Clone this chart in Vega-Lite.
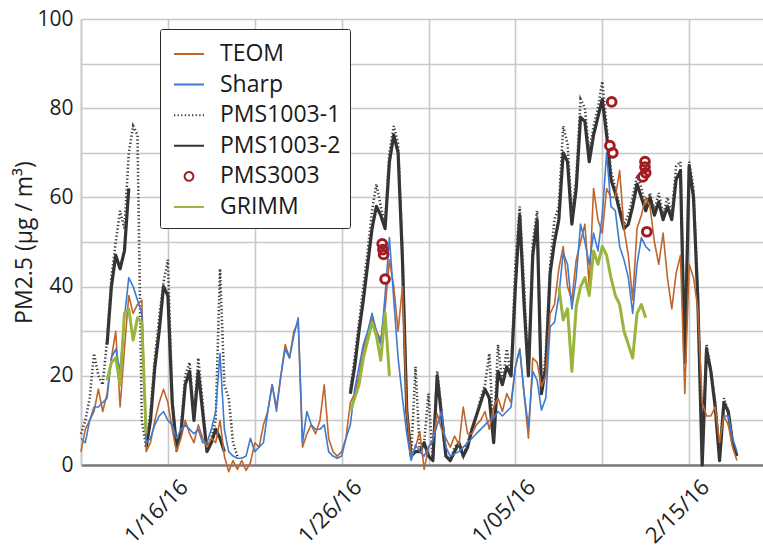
{
  "$schema": "https://vega.github.io/schema/vega-lite/v6.json",
  "width": 682,
  "height": 446,
  "autosize": {"type": "none"},
  "padding": {"left": 81, "top": 19, "right": 0, "bottom": 86},
  "background": "white",
  "config": {"view": {"stroke": null}, "font": "Open Sans"},
  "datasets": {
    "series": [
      {"t":"2016-01-11T00:00","TEOM":3,"Sharp":6,"PMS1003-1":7},
      {"t":"2016-01-11T06:00","TEOM":8,"Sharp":5,"PMS1003-1":10},
      {"t":"2016-01-11T12:00","TEOM":10,"Sharp":10,"PMS1003-1":15},
      {"t":"2016-01-11T18:00","TEOM":12,"Sharp":13,"PMS1003-1":25},
      {"t":"2016-01-12T00:00","TEOM":17,"Sharp":13,"PMS1003-1":20},
      {"t":"2016-01-12T06:00","TEOM":12,"Sharp":14,"PMS1003-1":18},
      {"t":"2016-01-12T12:00","TEOM":16,"Sharp":15,"PMS1003-1":28,"PMS1003-2":27,"GRIMM":19},
      {"t":"2016-01-12T18:00","TEOM":24,"Sharp":24,"PMS1003-1":42,"PMS1003-2":40,"GRIMM":23},
      {"t":"2016-01-13T00:00","TEOM":30,"Sharp":26,"PMS1003-1":50,"PMS1003-2":47,"GRIMM":24},
      {"t":"2016-01-13T06:00","TEOM":13,"Sharp":21,"PMS1003-1":57,"PMS1003-2":44,"GRIMM":18},
      {"t":"2016-01-13T12:00","TEOM":26,"Sharp":33,"PMS1003-1":53,"PMS1003-2":48,"GRIMM":34},
      {"t":"2016-01-13T18:00","TEOM":38,"Sharp":42,"PMS1003-1":70,"PMS1003-2":62,"GRIMM":35},
      {"t":"2016-01-14T00:00","TEOM":34,"Sharp":40,"PMS1003-1":76,"GRIMM":28},
      {"t":"2016-01-14T06:00","TEOM":36,"Sharp":37,"PMS1003-1":74,"GRIMM":33},
      {"t":"2016-01-14T12:00","TEOM":37,"Sharp":34,"PMS1003-1":10,"GRIMM":32},
      {"t":"2016-01-14T18:00","TEOM":3,"Sharp":5,"PMS1003-1":4,"PMS1003-2":4,"GRIMM":7},
      {"t":"2016-01-15T00:00","TEOM":5,"Sharp":6,"PMS1003-1":12,"PMS1003-2":10},
      {"t":"2016-01-15T06:00","TEOM":10,"Sharp":9,"PMS1003-1":24,"PMS1003-2":22},
      {"t":"2016-01-15T12:00","TEOM":14,"Sharp":11,"PMS1003-1":33,"PMS1003-2":30},
      {"t":"2016-01-15T18:00","TEOM":17,"Sharp":12,"PMS1003-1":41,"PMS1003-2":40},
      {"t":"2016-01-16T00:00","TEOM":14,"Sharp":10,"PMS1003-1":46,"PMS1003-2":38},
      {"t":"2016-01-16T06:00","TEOM":8,"Sharp":9,"PMS1003-1":15,"PMS1003-2":14},
      {"t":"2016-01-16T12:00","TEOM":3,"Sharp":6,"PMS1003-1":3,"PMS1003-2":4},
      {"t":"2016-01-16T18:00","TEOM":6,"Sharp":8,"PMS1003-1":8,"PMS1003-2":7},
      {"t":"2016-01-17T00:00","TEOM":10,"Sharp":9,"PMS1003-1":20,"PMS1003-2":18},
      {"t":"2016-01-17T06:00","TEOM":7,"Sharp":8,"PMS1003-1":23,"PMS1003-2":21},
      {"t":"2016-01-17T12:00","TEOM":5,"Sharp":7,"PMS1003-1":11,"PMS1003-2":10},
      {"t":"2016-01-17T18:00","TEOM":9,"Sharp":8,"PMS1003-1":24,"PMS1003-2":21},
      {"t":"2016-01-18T00:00","TEOM":6,"Sharp":5,"PMS1003-1":14,"PMS1003-2":12},
      {"t":"2016-01-18T06:00","TEOM":4,"Sharp":5,"PMS1003-1":3,"PMS1003-2":3},
      {"t":"2016-01-18T12:00","TEOM":6,"Sharp":8,"PMS1003-1":6,"PMS1003-2":5},
      {"t":"2016-01-18T18:00","TEOM":5,"Sharp":12,"PMS1003-1":10,"PMS1003-2":8},
      {"t":"2016-01-19T00:00","TEOM":10,"Sharp":25,"PMS1003-1":44,"PMS1003-2":6},
      {"t":"2016-01-19T06:00","TEOM":2,"Sharp":8,"PMS1003-1":18,"PMS1003-2":3},
      {"t":"2016-01-19T12:00","TEOM":-1.5,"Sharp":3,"PMS1003-1":15},
      {"t":"2016-01-19T18:00","TEOM":1,"Sharp":2,"PMS1003-1":5},
      {"t":"2016-01-20T00:00","TEOM":-1,"Sharp":1.5,"PMS1003-1":2},
      {"t":"2016-01-20T06:00","TEOM":1,"Sharp":1.5},
      {"t":"2016-01-20T12:00","TEOM":-1.2,"Sharp":2},
      {"t":"2016-01-20T18:00","TEOM":0.5,"Sharp":6},
      {"t":"2016-01-21T00:00","TEOM":5,"Sharp":3},
      {"t":"2016-01-21T06:00","TEOM":4,"Sharp":4},
      {"t":"2016-01-21T12:00","TEOM":9,"Sharp":5},
      {"t":"2016-01-21T18:00","TEOM":12,"Sharp":12},
      {"t":"2016-01-22T00:00","TEOM":18,"Sharp":18},
      {"t":"2016-01-22T06:00","TEOM":13,"Sharp":12},
      {"t":"2016-01-22T12:00","TEOM":20,"Sharp":20},
      {"t":"2016-01-22T18:00","TEOM":27,"Sharp":26},
      {"t":"2016-01-23T00:00","TEOM":24,"Sharp":24},
      {"t":"2016-01-23T06:00","TEOM":30,"Sharp":29},
      {"t":"2016-01-23T12:00","TEOM":32,"Sharp":33},
      {"t":"2016-01-23T18:00","TEOM":4,"Sharp":5},
      {"t":"2016-01-24T00:00","TEOM":7,"Sharp":12},
      {"t":"2016-01-24T06:00","TEOM":9,"Sharp":9},
      {"t":"2016-01-24T12:00","TEOM":7,"Sharp":8},
      {"t":"2016-01-24T18:00","TEOM":10,"Sharp":8},
      {"t":"2016-01-25T00:00","TEOM":18,"Sharp":9},
      {"t":"2016-01-25T06:00","TEOM":6,"Sharp":3},
      {"t":"2016-01-25T12:00","TEOM":3,"Sharp":2},
      {"t":"2016-01-25T18:00","TEOM":2,"Sharp":1.5},
      {"t":"2016-01-26T00:00","TEOM":3,"Sharp":2},
      {"t":"2016-01-26T06:00","TEOM":6,"Sharp":6},
      {"t":"2016-01-26T12:00","TEOM":14,"Sharp":9,"PMS1003-1":17,"PMS1003-2":16,"GRIMM":12},
      {"t":"2016-01-26T18:00","TEOM":16,"Sharp":17,"PMS1003-1":24,"PMS1003-2":22,"GRIMM":15},
      {"t":"2016-01-27T00:00","TEOM":20,"Sharp":22,"PMS1003-1":32,"PMS1003-2":30,"GRIMM":18},
      {"t":"2016-01-27T06:00","TEOM":26,"Sharp":27,"PMS1003-1":40,"PMS1003-2":37,"GRIMM":24},
      {"t":"2016-01-27T12:00","TEOM":29,"Sharp":30,"PMS1003-1":48,"PMS1003-2":45,"GRIMM":28},
      {"t":"2016-01-27T18:00","TEOM":33,"Sharp":34,"PMS1003-1":57,"PMS1003-2":53,"GRIMM":32},
      {"t":"2016-01-28T00:00","TEOM":30,"Sharp":30,"PMS1003-1":63,"PMS1003-2":58,"GRIMM":29},
      {"t":"2016-01-28T06:00","TEOM":28,"Sharp":27,"PMS1003-1":58,"PMS1003-2":56,"GRIMM":23.5},
      {"t":"2016-01-28T12:00","TEOM":35,"Sharp":38,"PMS1003-1":54,"PMS1003-2":53,"GRIMM":34},
      {"t":"2016-01-28T18:00","TEOM":46,"Sharp":51,"PMS1003-1":70,"PMS1003-2":68,"GRIMM":20},
      {"t":"2016-01-29T00:00","TEOM":40,"Sharp":37,"PMS1003-1":76,"PMS1003-2":74},
      {"t":"2016-01-29T06:00","TEOM":30,"Sharp":24,"PMS1003-1":72,"PMS1003-2":70},
      {"t":"2016-01-29T12:00","TEOM":40,"Sharp":15,"PMS1003-1":48,"PMS1003-2":46},
      {"t":"2016-01-29T18:00","TEOM":12,"Sharp":7,"PMS1003-1":12,"PMS1003-2":12},
      {"t":"2016-01-30T00:00","TEOM":2,"Sharp":1,"PMS1003-1":2,"PMS1003-2":2},
      {"t":"2016-01-30T06:00","TEOM":4,"Sharp":4.5,"PMS1003-1":22,"PMS1003-2":3},
      {"t":"2016-01-30T12:00","TEOM":7.5,"Sharp":3,"PMS1003-1":3,"PMS1003-2":3},
      {"t":"2016-01-30T18:00","TEOM":-1,"Sharp":2,"PMS1003-1":5,"PMS1003-2":5},
      {"t":"2016-01-31T00:00","TEOM":4,"Sharp":4,"PMS1003-1":16,"PMS1003-2":2},
      {"t":"2016-01-31T06:00","TEOM":5.5,"Sharp":5.5,"PMS1003-1":1,"PMS1003-2":1},
      {"t":"2016-01-31T12:00","TEOM":11.5,"Sharp":9,"PMS1003-1":21,"PMS1003-2":20},
      {"t":"2016-01-31T18:00","TEOM":8,"Sharp":12,"PMS1003-1":12,"PMS1003-2":11},
      {"t":"2016-02-01T00:00","TEOM":6,"Sharp":4,"PMS1003-1":2,"PMS1003-2":2},
      {"t":"2016-02-01T06:00","TEOM":4,"Sharp":2,"PMS1003-1":1,"PMS1003-2":1},
      {"t":"2016-02-01T12:00","TEOM":6.5,"Sharp":2.5,"PMS1003-1":4,"PMS1003-2":3},
      {"t":"2016-02-01T18:00","TEOM":4.5,"Sharp":3,"PMS1003-1":5,"PMS1003-2":5},
      {"t":"2016-02-02T00:00","TEOM":13,"Sharp":4,"PMS1003-1":2,"PMS1003-2":2},
      {"t":"2016-02-02T06:00","TEOM":7,"Sharp":5,"PMS1003-1":5,"PMS1003-2":4},
      {"t":"2016-02-02T12:00","TEOM":7,"Sharp":6,"PMS1003-1":8,"PMS1003-2":8},
      {"t":"2016-02-02T18:00","TEOM":9,"Sharp":7,"PMS1003-1":11,"PMS1003-2":11},
      {"t":"2016-02-03T00:00","TEOM":10,"Sharp":8,"PMS1003-1":15,"PMS1003-2":14},
      {"t":"2016-02-03T06:00","TEOM":12,"Sharp":9,"PMS1003-1":18,"PMS1003-2":17},
      {"t":"2016-02-03T12:00","TEOM":8,"Sharp":10,"PMS1003-1":25,"PMS1003-2":15},
      {"t":"2016-02-03T18:00","TEOM":13,"Sharp":10.5,"PMS1003-1":6,"PMS1003-2":5},
      {"t":"2016-02-04T00:00","TEOM":15,"Sharp":12,"PMS1003-1":27,"PMS1003-2":21},
      {"t":"2016-02-04T06:00","TEOM":12,"Sharp":11,"PMS1003-1":18,"PMS1003-2":18},
      {"t":"2016-02-04T12:00","TEOM":16,"Sharp":12,"PMS1003-1":26,"PMS1003-2":22},
      {"t":"2016-02-04T18:00","TEOM":14,"Sharp":13,"PMS1003-1":20,"PMS1003-2":20},
      {"t":"2016-02-05T00:00","TEOM":22,"Sharp":22,"PMS1003-1":45,"PMS1003-2":40},
      {"t":"2016-02-05T06:00","TEOM":26,"Sharp":26,"PMS1003-1":58,"PMS1003-2":56},
      {"t":"2016-02-05T12:00","TEOM":16,"Sharp":16,"PMS1003-1":40,"PMS1003-2":36},
      {"t":"2016-02-05T18:00","TEOM":6,"Sharp":8.6,"PMS1003-1":20,"PMS1003-2":20},
      {"t":"2016-02-06T00:00","TEOM":24,"Sharp":21,"PMS1003-1":50,"PMS1003-2":47},
      {"t":"2016-02-06T06:00","TEOM":23,"Sharp":19,"PMS1003-1":57,"PMS1003-2":55},
      {"t":"2016-02-06T12:00","TEOM":17.6,"Sharp":12.3,"PMS1003-1":16,"PMS1003-2":16},
      {"t":"2016-02-06T18:00","TEOM":20,"Sharp":15,"PMS1003-1":25,"PMS1003-2":22},
      {"t":"2016-02-07T00:00","TEOM":34,"Sharp":31,"PMS1003-1":45,"PMS1003-2":43},
      {"t":"2016-02-07T06:00","TEOM":36,"Sharp":32,"PMS1003-1":55,"PMS1003-2":50},
      {"t":"2016-02-07T12:00","TEOM":44,"Sharp":38,"PMS1003-1":58,"PMS1003-2":55,"GRIMM":40},
      {"t":"2016-02-07T18:00","TEOM":49,"Sharp":47.5,"PMS1003-1":76,"PMS1003-2":70,"GRIMM":32.5},
      {"t":"2016-02-08T00:00","TEOM":40,"Sharp":45,"PMS1003-1":72,"PMS1003-2":68,"GRIMM":35},
      {"t":"2016-02-08T06:00","TEOM":37,"Sharp":35,"PMS1003-1":56,"PMS1003-2":54,"GRIMM":21},
      {"t":"2016-02-08T12:00","TEOM":46,"Sharp":42,"PMS1003-1":64,"PMS1003-2":62,"GRIMM":35.5},
      {"t":"2016-02-08T18:00","TEOM":50,"Sharp":54,"PMS1003-1":82,"PMS1003-2":78,"GRIMM":40},
      {"t":"2016-02-09T00:00","TEOM":54,"Sharp":50,"PMS1003-1":80,"PMS1003-2":77,"GRIMM":42},
      {"t":"2016-02-09T06:00","TEOM":40,"Sharp":45,"PMS1003-1":70,"PMS1003-2":68,"GRIMM":38},
      {"t":"2016-02-09T12:00","TEOM":62,"Sharp":52,"PMS1003-1":76,"PMS1003-2":74,"GRIMM":48},
      {"t":"2016-02-09T18:00","TEOM":55,"Sharp":48,"PMS1003-1":80,"PMS1003-2":78,"GRIMM":45},
      {"t":"2016-02-10T00:00","TEOM":52,"Sharp":56,"PMS1003-1":86,"PMS1003-2":82,"GRIMM":49},
      {"t":"2016-02-10T06:00","TEOM":62,"Sharp":70,"PMS1003-1":76,"PMS1003-2":74,"GRIMM":47},
      {"t":"2016-02-10T12:00","TEOM":60,"Sharp":58,"PMS1003-1":66,"PMS1003-2":64,"GRIMM":42},
      {"t":"2016-02-10T18:00","TEOM":60,"Sharp":57,"PMS1003-1":62,"PMS1003-2":61,"GRIMM":38},
      {"t":"2016-02-11T00:00","TEOM":66,"Sharp":49,"PMS1003-1":58,"PMS1003-2":57,"GRIMM":36},
      {"t":"2016-02-11T06:00","TEOM":53,"Sharp":46,"PMS1003-1":54,"PMS1003-2":53,"GRIMM":30},
      {"t":"2016-02-11T12:00","TEOM":47,"Sharp":42,"PMS1003-1":56,"PMS1003-2":54,"GRIMM":27},
      {"t":"2016-02-11T18:00","TEOM":37,"Sharp":34,"PMS1003-1":60,"PMS1003-2":58,"GRIMM":24},
      {"t":"2016-02-12T00:00","TEOM":53,"Sharp":45,"PMS1003-1":65,"PMS1003-2":63,"GRIMM":34},
      {"t":"2016-02-12T06:00","TEOM":56,"Sharp":51,"PMS1003-1":62,"PMS1003-2":60,"GRIMM":36},
      {"t":"2016-02-12T12:00","TEOM":60,"Sharp":49,"PMS1003-1":58,"PMS1003-2":57,"GRIMM":33},
      {"t":"2016-02-12T18:00","TEOM":58,"Sharp":48,"PMS1003-1":61,"PMS1003-2":60},
      {"t":"2016-02-13T00:00","TEOM":50,"PMS1003-1":57,"PMS1003-2":56},
      {"t":"2016-02-13T06:00","TEOM":45,"PMS1003-1":61,"PMS1003-2":59},
      {"t":"2016-02-13T12:00","TEOM":52,"PMS1003-1":56,"PMS1003-2":55},
      {"t":"2016-02-13T18:00","TEOM":42,"PMS1003-1":60,"PMS1003-2":58},
      {"t":"2016-02-14T00:00","TEOM":35,"PMS1003-1":56,"PMS1003-2":55},
      {"t":"2016-02-14T06:00","TEOM":43,"PMS1003-1":67,"PMS1003-2":64},
      {"t":"2016-02-14T12:00","TEOM":47,"PMS1003-1":68,"PMS1003-2":66},
      {"t":"2016-02-14T18:00","TEOM":16,"PMS1003-1":24,"PMS1003-2":23},
      {"t":"2016-02-15T00:00","TEOM":45,"PMS1003-1":68,"PMS1003-2":67},
      {"t":"2016-02-15T06:00","TEOM":42,"PMS1003-1":62,"PMS1003-2":60},
      {"t":"2016-02-15T12:00","TEOM":35,"PMS1003-1":38,"PMS1003-2":37},
      {"t":"2016-02-15T18:00","TEOM":14,"PMS1003-1":2,"PMS1003-2":0},
      {"t":"2016-02-16T00:00","TEOM":11,"PMS1003-1":27,"PMS1003-2":26},
      {"t":"2016-02-16T06:00","TEOM":11,"PMS1003-1":21,"PMS1003-2":21},
      {"t":"2016-02-16T12:00","TEOM":13,"PMS1003-1":14,"PMS1003-2":13},
      {"t":"2016-02-16T18:00","TEOM":5,"PMS1003-1":2,"PMS1003-2":1},
      {"t":"2016-02-17T00:00","TEOM":11,"Sharp":11,"PMS1003-1":15,"PMS1003-2":14},
      {"t":"2016-02-17T06:00","TEOM":9,"Sharp":11,"PMS1003-1":12,"PMS1003-2":12},
      {"t":"2016-02-17T12:00","TEOM":4,"Sharp":6,"PMS1003-1":5,"PMS1003-2":5},
      {"t":"2016-02-17T18:00","TEOM":1,"Sharp":3,"PMS1003-1":2,"PMS1003-2":2}
    ],
    "pms3003": [
      {"t":"2016-01-28T08:00","series":"PMS3003","value":49.6},
      {"t":"2016-01-28T09:00","series":"PMS3003","value":48.3},
      {"t":"2016-01-28T10:00","series":"PMS3003","value":47.2},
      {"t":"2016-01-28T12:00","series":"PMS3003","value":41.7},
      {"t":"2016-02-10T10:30","series":"PMS3003","value":71.6},
      {"t":"2016-02-10T13:00","series":"PMS3003","value":81.4},
      {"t":"2016-02-10T14:30","series":"PMS3003","value":70.0},
      {"t":"2016-02-12T08:00","series":"PMS3003","value":64.6},
      {"t":"2016-02-12T11:00","series":"PMS3003","value":68.0},
      {"t":"2016-02-12T11:00","series":"PMS3003","value":66.8},
      {"t":"2016-02-12T12:00","series":"PMS3003","value":65.5},
      {"t":"2016-02-12T13:30","series":"PMS3003","value":52.3}
    ]
  },
  "encoding": {
    "x": {
      "field": "t",
      "type": "temporal",
      "scale": {"domain": [{"year": 2016, "month": 1, "date": 11}, {"year": 2016, "month": 2, "date": 19, "hours": 6}]},
      "axis": {
        "title": null,
        "values": [
          {"year": 2016, "month": 1, "date": 11},
          {"year": 2016, "month": 1, "date": 16},
          {"year": 2016, "month": 1, "date": 21},
          {"year": 2016, "month": 1, "date": 26},
          {"year": 2016, "month": 1, "date": 31},
          {"year": 2016, "month": 2, "date": 5},
          {"year": 2016, "month": 2, "date": 10},
          {"year": 2016, "month": 2, "date": 15}
        ],
        "labelExpr": "date(datum.value) == 16 ? '1/16/16' : date(datum.value) == 26 ? '1/26/16' : date(datum.value) == 5 ? '1/05/16' : date(datum.value) == 15 ? '2/15/16' : ''",
        "grid": true,
        "gridColor": "#c8c8c8",
        "gridWidth": 1.6,
        "ticks": false,
        "domainColor": "#7a7a7a",
        "domainWidth": 2.5,
        "labelAngle": -45,
        "labelAlign": "right",
        "labelBaseline": "top",
        "labelFont": "Open Sans",
        "labelFontSize": 22,
        "labelColor": "#1e1e1e",
        "labelPadding": 11,
        "labelOffset": 9,
        "labelOverlap": false,
        "labelFlush": false,
        "zindex": 0
      }
    },
    "y": {
      "field": "value",
      "type": "quantitative",
      "scale": {"domain": [0, 100], "nice": false, "zero": false},
      "axis": {
        "title": "PM2.5 (μg / m³)",
        "titleFont": "Open Sans",
        "titleFontSize": 23,
        "titleFontWeight": "normal",
        "titleColor": "#1e1e1e",
        "titlePadding": 0,
        "values": [0, 10, 20, 30, 40, 50, 60, 70, 80, 90, 100],
        "labelExpr": "datum.value % 20 == 0 ? datum.label : ''",
        "grid": true,
        "gridColor": "#c8c8c8",
        "gridWidth": 1.6,
        "ticks": false,
        "domainColor": "#c8c8c8",
        "domainWidth": 1.6,
        "labelFont": "Open Sans",
        "labelFontSize": 21,
        "labelColor": "#1e1e1e",
        "labelPadding": 8,
        "labelFlush": false,
        "zindex": 0
      }
    },
    "color": {
      "field": "series",
      "type": "nominal",
      "scale": {
        "domain": ["TEOM", "Sharp", "PMS1003-1", "PMS1003-2", "PMS3003", "GRIMM"],
        "range": ["#c0652b", "#3e7bd0", "#3d3d3d", "#333333", "#a01d24", "#9bb53c"]
      },
      "legend": {
        "title": null, "orient": "none", "legendX": 79, "legendY": 10, "padding": 9,
        "symbolOffset": 4, "symbolSize": 900, "symbolType": "stroke", "symbolStrokeWidth": 2,
        "labelFont": "Open Sans", "labelFontSize": 23, "labelColor": "#1a1a1a", "labelOffset": 15,
        "labelLimit": 300, "rowPadding": 2.6, "strokeColor": "#2a2a2a", "fillColor": "white", "cornerRadius": 2
      }
    }
  },
  "layer": [
    {
      "data": {"name": "series"},
      "transform": [
        {"fold": ["PMS1003-2", "PMS1003-1", "TEOM", "Sharp", "GRIMM"], "as": ["series", "value"]},
        {"filter": "datum.series === 'PMS1003-2'"}
      ],
      "mark": {"type": "line", "strokeWidth": 3.2, "strokeJoin": "round"},
      "encoding": {
        "strokeDash": {
          "field": "series", "type": "nominal",
          "scale": {"domain": ["TEOM", "Sharp", "PMS1003-1", "PMS1003-2", "PMS3003", "GRIMM"], "range": [[1, 0], [1, 0], [1.3, 2.3], [1, 0], [1, 0], [1, 0]]},
          "legend": {
            "title": null, "orient": "none", "legendX": 79, "legendY": 10, "padding": 9,
            "symbolOffset": 4, "symbolSize": 900, "symbolType": "stroke", "symbolStrokeWidth": 2,
            "labelFont": "Open Sans", "labelFontSize": 23, "labelColor": "#1a1a1a", "labelOffset": 15,
            "labelLimit": 300, "rowPadding": 2.6, "strokeColor": "#2a2a2a", "fillColor": "white", "cornerRadius": 2
          }
        }
      }
    },
    {
      "data": {"name": "series"},
      "transform": [
        {"fold": ["PMS1003-2", "PMS1003-1", "TEOM", "Sharp", "GRIMM"], "as": ["series", "value"]},
        {"filter": "datum.series === 'PMS1003-1'"}
      ],
      "mark": {"type": "line", "strokeWidth": 2.6},
      "encoding": {
        "strokeDash": {
          "field": "series", "type": "nominal",
          "scale": {"domain": ["TEOM", "Sharp", "PMS1003-1", "PMS1003-2", "PMS3003", "GRIMM"], "range": [[1, 0], [1, 0], [1.3, 2.3], [1, 0], [1, 0], [1, 0]]},
          "legend": {
            "title": null, "orient": "none", "legendX": 79, "legendY": 10, "padding": 9,
            "symbolOffset": 4, "symbolSize": 900, "symbolType": "stroke", "symbolStrokeWidth": 2,
            "labelFont": "Open Sans", "labelFontSize": 23, "labelColor": "#1a1a1a", "labelOffset": 15,
            "labelLimit": 300, "rowPadding": 2.6, "strokeColor": "#2a2a2a", "fillColor": "white", "cornerRadius": 2
          }
        }
      }
    },
    {
      "data": {"name": "series"},
      "transform": [
        {"fold": ["PMS1003-2", "PMS1003-1", "TEOM", "Sharp", "GRIMM"], "as": ["series", "value"]},
        {"filter": "datum.series === 'TEOM' || datum.series === 'Sharp'"}
      ],
      "mark": {"type": "line", "strokeWidth": 1.6, "strokeJoin": "round"}
    },
    {
      "data": {"name": "series"},
      "transform": [
        {"fold": ["PMS1003-2", "PMS1003-1", "TEOM", "Sharp", "GRIMM"], "as": ["series", "value"]},
        {"filter": "datum.series === 'GRIMM'"}
      ],
      "mark": {"type": "line", "strokeWidth": 3, "strokeJoin": "round"}
    },
    {
      "data": {"name": "pms3003"},
      "mark": {"type": "point", "filled": true, "shape": "M-0.29,0A0.29,0.29,0,1,1,0.29,0A0.29,0.29,0,1,1,-0.29,0Z", "size": 900, "opacity": 1},
      "encoding": {"color": {"value": "white"}}
    },
    {
      "data": {"name": "pms3003"},
      "mark": {"type": "point", "filled": false, "strokeWidth": 3, "size": 900, "opacity": 1},
      "encoding": {
        "shape": {
          "field": "series", "type": "nominal",
          "scale": {"domain": ["TEOM", "Sharp", "PMS1003-1", "PMS1003-2", "PMS3003", "GRIMM"], "range": ["stroke", "stroke", "stroke", "stroke", "M-0.29,0A0.29,0.29,0,1,1,0.29,0A0.29,0.29,0,1,1,-0.29,0Z", "stroke"]},
          "legend": {
            "title": null, "orient": "none", "legendX": 79, "legendY": 10, "padding": 9,
            "symbolOffset": 4, "symbolSize": 900, "symbolType": "stroke", "symbolStrokeWidth": 2,
            "labelFont": "Open Sans", "labelFontSize": 23, "labelColor": "#1a1a1a", "labelOffset": 15,
            "labelLimit": 300, "rowPadding": 2.6, "strokeColor": "#2a2a2a", "fillColor": "white", "cornerRadius": 2
          }
        }
      }
    }
  ]
}
